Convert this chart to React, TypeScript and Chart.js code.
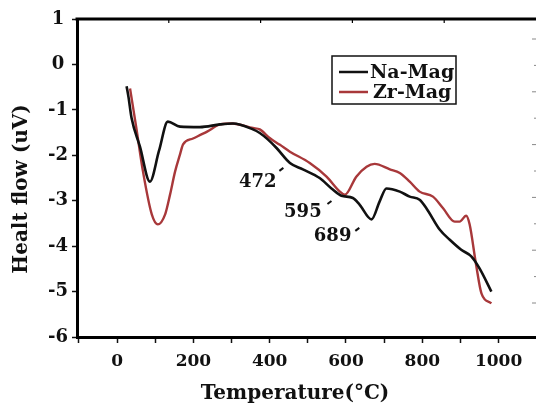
import React, { useEffect, useRef } from "react";
import { Chart, registerables } from "chart.js";

Chart.register(...registerables);

// ---- data ----
const naTemps = [25, 30, 38, 60, 86, 110, 133, 165, 217, 270, 304, 356, 374, 395, 418, 453, 487, 531, 562, 588, 618, 636, 667, 688, 706, 741, 767, 793, 811, 846, 872, 902, 929, 950, 981];
const naFlow = [-0.48, -0.72, -1.18, -1.81, -2.58, -1.9, -1.26, -1.37, -1.38, -1.32, -1.3, -1.43, -1.51, -1.65, -1.84, -2.17, -2.31, -2.5, -2.73, -2.89, -2.94, -3.09, -3.41, -3.02, -2.73, -2.8, -2.91, -2.98, -3.17, -3.64, -3.86, -4.08, -4.23, -4.49, -5.0];

const zrTemps = [34, 50, 68, 91, 107, 126, 139, 152, 165, 173, 199, 236, 270, 301, 356, 374, 400, 427, 453, 505, 549, 584, 597, 627, 654, 675, 715, 741, 767, 793, 828, 854, 885, 898, 915, 924, 941, 955, 981];
const zrFlow = [-0.53, -1.37, -2.36, -3.3, -3.52, -3.3, -2.86, -2.36, -1.98, -1.76, -1.63, -1.48, -1.32, -1.3, -1.4, -1.43, -1.62, -1.77, -1.92, -2.17, -2.47, -2.8, -2.87, -2.47, -2.25, -2.19, -2.31, -2.39, -2.58, -2.8, -2.91, -3.16, -3.46, -3.46, -3.33, -3.52, -4.41, -5.04, -5.26];

const xTickValues = [-100, 0, 100, 200, 300, 400, 500, 600, 700, 800, 900, 1000];
const xTickLabels = ["", "0", "", "200", "", "400", "", "600", "", "800", "", "1000"];
const yTickValues = [1, 0, -1, -2, -3, -4, -5, -6];

const seriesNames = ["Na-Mag", "Zr-Mag"];
const seriesColors = ["#111111", "#a8383a"];

const peakLabels = ["472", "595", "689"];
const peakLabelT = [369, 487, 565];
const peakLabelV = [-2.6, -3.26, -3.79];
const peakMarkT = [432, 558, 631];
const peakMarkV = [-2.31, -3.04, -3.63];

const xTitle = "Temperature(°C)";
const yTitle = "Healt flow (uV)";

const FONT = "'DejaVu Serif', 'Liberation Serif', serif";

function toPoints(xs: number[], ys: number[]) {
  return xs.map((x, i) => ({ x, y: ys[i] }));
}

const decorPlugin = {
  id: "decor",
  afterDraw(chart: any) {
    const { ctx, chartArea, scales } = chart;
    const xs = scales.x;
    const ys = scales.y;
    ctx.save();
    // top border
    ctx.strokeStyle = "#000";
    ctx.lineWidth = 3;
    ctx.beginPath();
    ctx.moveTo(chartArea.left - 1.5, chartArea.top);
    ctx.lineTo(chartArea.right, chartArea.top);
    ctx.stroke();
    // top ticks (inner)
    ctx.lineWidth = 1.2;
    const topStep = (chartArea.right - chartArea.left) / 5;
    for (let i = 1; i < 5; i++) {
      const x = chartArea.left + i * topStep;
      ctx.beginPath();
      ctx.moveTo(x, chartArea.top);
      ctx.lineTo(x, chartArea.top + 4);
      ctx.stroke();
    }
    // right edge small ticks
    ctx.strokeStyle = "#888";
    ctx.lineWidth = 1;
    for (let i = 0; i < 11; i++) {
      const y = chartArea.top + 20 + i * 26.4;
      ctx.beginPath();
      ctx.moveTo(chartArea.right - (i % 2 === 0 ? 4 : 2), y);
      ctx.lineTo(chartArea.right, y);
      ctx.stroke();
    }

    // peak labels
    ctx.fillStyle = "#111";
    ctx.strokeStyle = "#111";
    ctx.font = `bold 18px ${FONT}`;
    ctx.textAlign = "center";
    ctx.textBaseline = "middle";
    peakLabels.forEach((t, i) => {
      const px = xs.getPixelForValue(peakLabelT[i]);
      const py = ys.getPixelForValue(peakLabelV[i]);
      ctx.fillText(t, px, py);
      const mx = xs.getPixelForValue(peakMarkT[i]);
      const my = ys.getPixelForValue(peakMarkV[i]);
      ctx.lineWidth = 2;
      ctx.beginPath();
      ctx.moveTo(mx - 2.5, my + 1.5);
      ctx.lineTo(mx + 1.5, my - 1.5);
      ctx.stroke();
    });

    // legend
    const lx = chartArea.left + 255;
    const ly = chartArea.top + 37;
    const lw = 124;
    const lh = 48;
    ctx.lineWidth = 1.5;
    ctx.strokeStyle = "#111";
    ctx.strokeRect(lx, ly, lw, lh);
    ctx.textAlign = "left";
    ctx.font = `bold 19px ${FONT}`;
    seriesNames.forEach((name, i) => {
      const yy = ly + 16 + i * 20;
      ctx.strokeStyle = seriesColors[i];
      ctx.lineWidth = 2.5;
      ctx.beginPath();
      ctx.moveTo(lx + 7, yy);
      ctx.lineTo(lx + 36, yy);
      ctx.stroke();
      ctx.fillStyle = "#111";
      ctx.fillText(name, lx + (i === 0 ? 38 : 41), yy + 1);
    });

    // axis titles
    ctx.fillStyle = "#111";
    ctx.font = `bold 20px ${FONT}`;
    ctx.textAlign = "center";
    ctx.textBaseline = "middle";
    ctx.fillText(xTitle, 295, 394);
    ctx.save();
    ctx.translate(22, 189);
    ctx.rotate(-Math.PI / 2);
    ctx.fillText(yTitle, 0, 0);
    ctx.restore();

    ctx.restore();
  },
};

export default function App() {
  const ref = useRef<HTMLCanvasElement | null>(null);
  useEffect(() => {
    if (!ref.current) return;
    const chart = new Chart(ref.current, {
      type: "line",
      data: {
        datasets: [
          {
            label: seriesNames[0],
            data: toPoints(naTemps, naFlow),
            borderColor: seriesColors[0],
            borderWidth: 2.6,
            pointRadius: 0,
            cubicInterpolationMode: "monotone",
            fill: false,
          },
          {
            label: seriesNames[1],
            data: toPoints(zrTemps, zrFlow),
            borderColor: seriesColors[1],
            borderWidth: 2.4,
            pointRadius: 0,
            cubicInterpolationMode: "monotone",
            fill: false,
          },
        ],
      },
      options: {
        animation: false,
        responsive: false,
        maintainAspectRatio: false,
        layout: { padding: { left: 0, right: 0, top: 19, bottom: 0 } },
        plugins: { legend: { display: false }, tooltip: { enabled: false } },
        scales: {
          x: {
            type: "linear",
            min: -105,
            max: 1098,
            afterBuildTicks: (s: any) => {
              s.ticks = xTickValues.map((v) => ({ value: v }));
            },
            afterFit: (s: any) => {
              s.height = 71;
              s.paddingLeft = 0;
              s.paddingRight = 0;
            },
            ticks: {
              autoSkip: false,
              maxRotation: 0,
              minRotation: 0,
              padding: 8,
              color: "#111",
              font: { family: FONT, size: 17, weight: "bold" },
              callback: (_v: any, i: number) => xTickLabels[i],
            },
            grid: { drawOnChartArea: false, drawTicks: true, tickLength: 6, tickColor: "#111", tickWidth: 1.5 },
            border: { display: true, color: "#000", width: 3 },
          },
          y: {
            type: "linear",
            min: -6,
            max: 1,
            afterBuildTicks: (s: any) => {
              s.ticks = yTickValues.map((v) => ({ value: v }));
            },
            afterFit: (s: any) => {
              s.width = 77;
            },
            ticks: {
              padding: 4,
              crossAlign: "center",
              color: "#111",
              font: { family: FONT, size: 18, weight: "bold" },
              callback: (v: any) => String(v),
            },
            grid: { drawOnChartArea: false, drawTicks: true, tickLength: 5, tickColor: "#111", tickWidth: 1.5 },
            border: { display: true, color: "#000", width: 3 },
          },
        },
      },
      plugins: [decorPlugin],
    } as any);
    return () => chart.destroy();
  }, []);
  return (
    <div style={{ position: "fixed", left: 0, top: 0, width: 536, height: 408, background: "#fff" }}>
      <canvas ref={ref} width={536} height={408} style={{ display: "block" }} />
    </div>
  );
}
